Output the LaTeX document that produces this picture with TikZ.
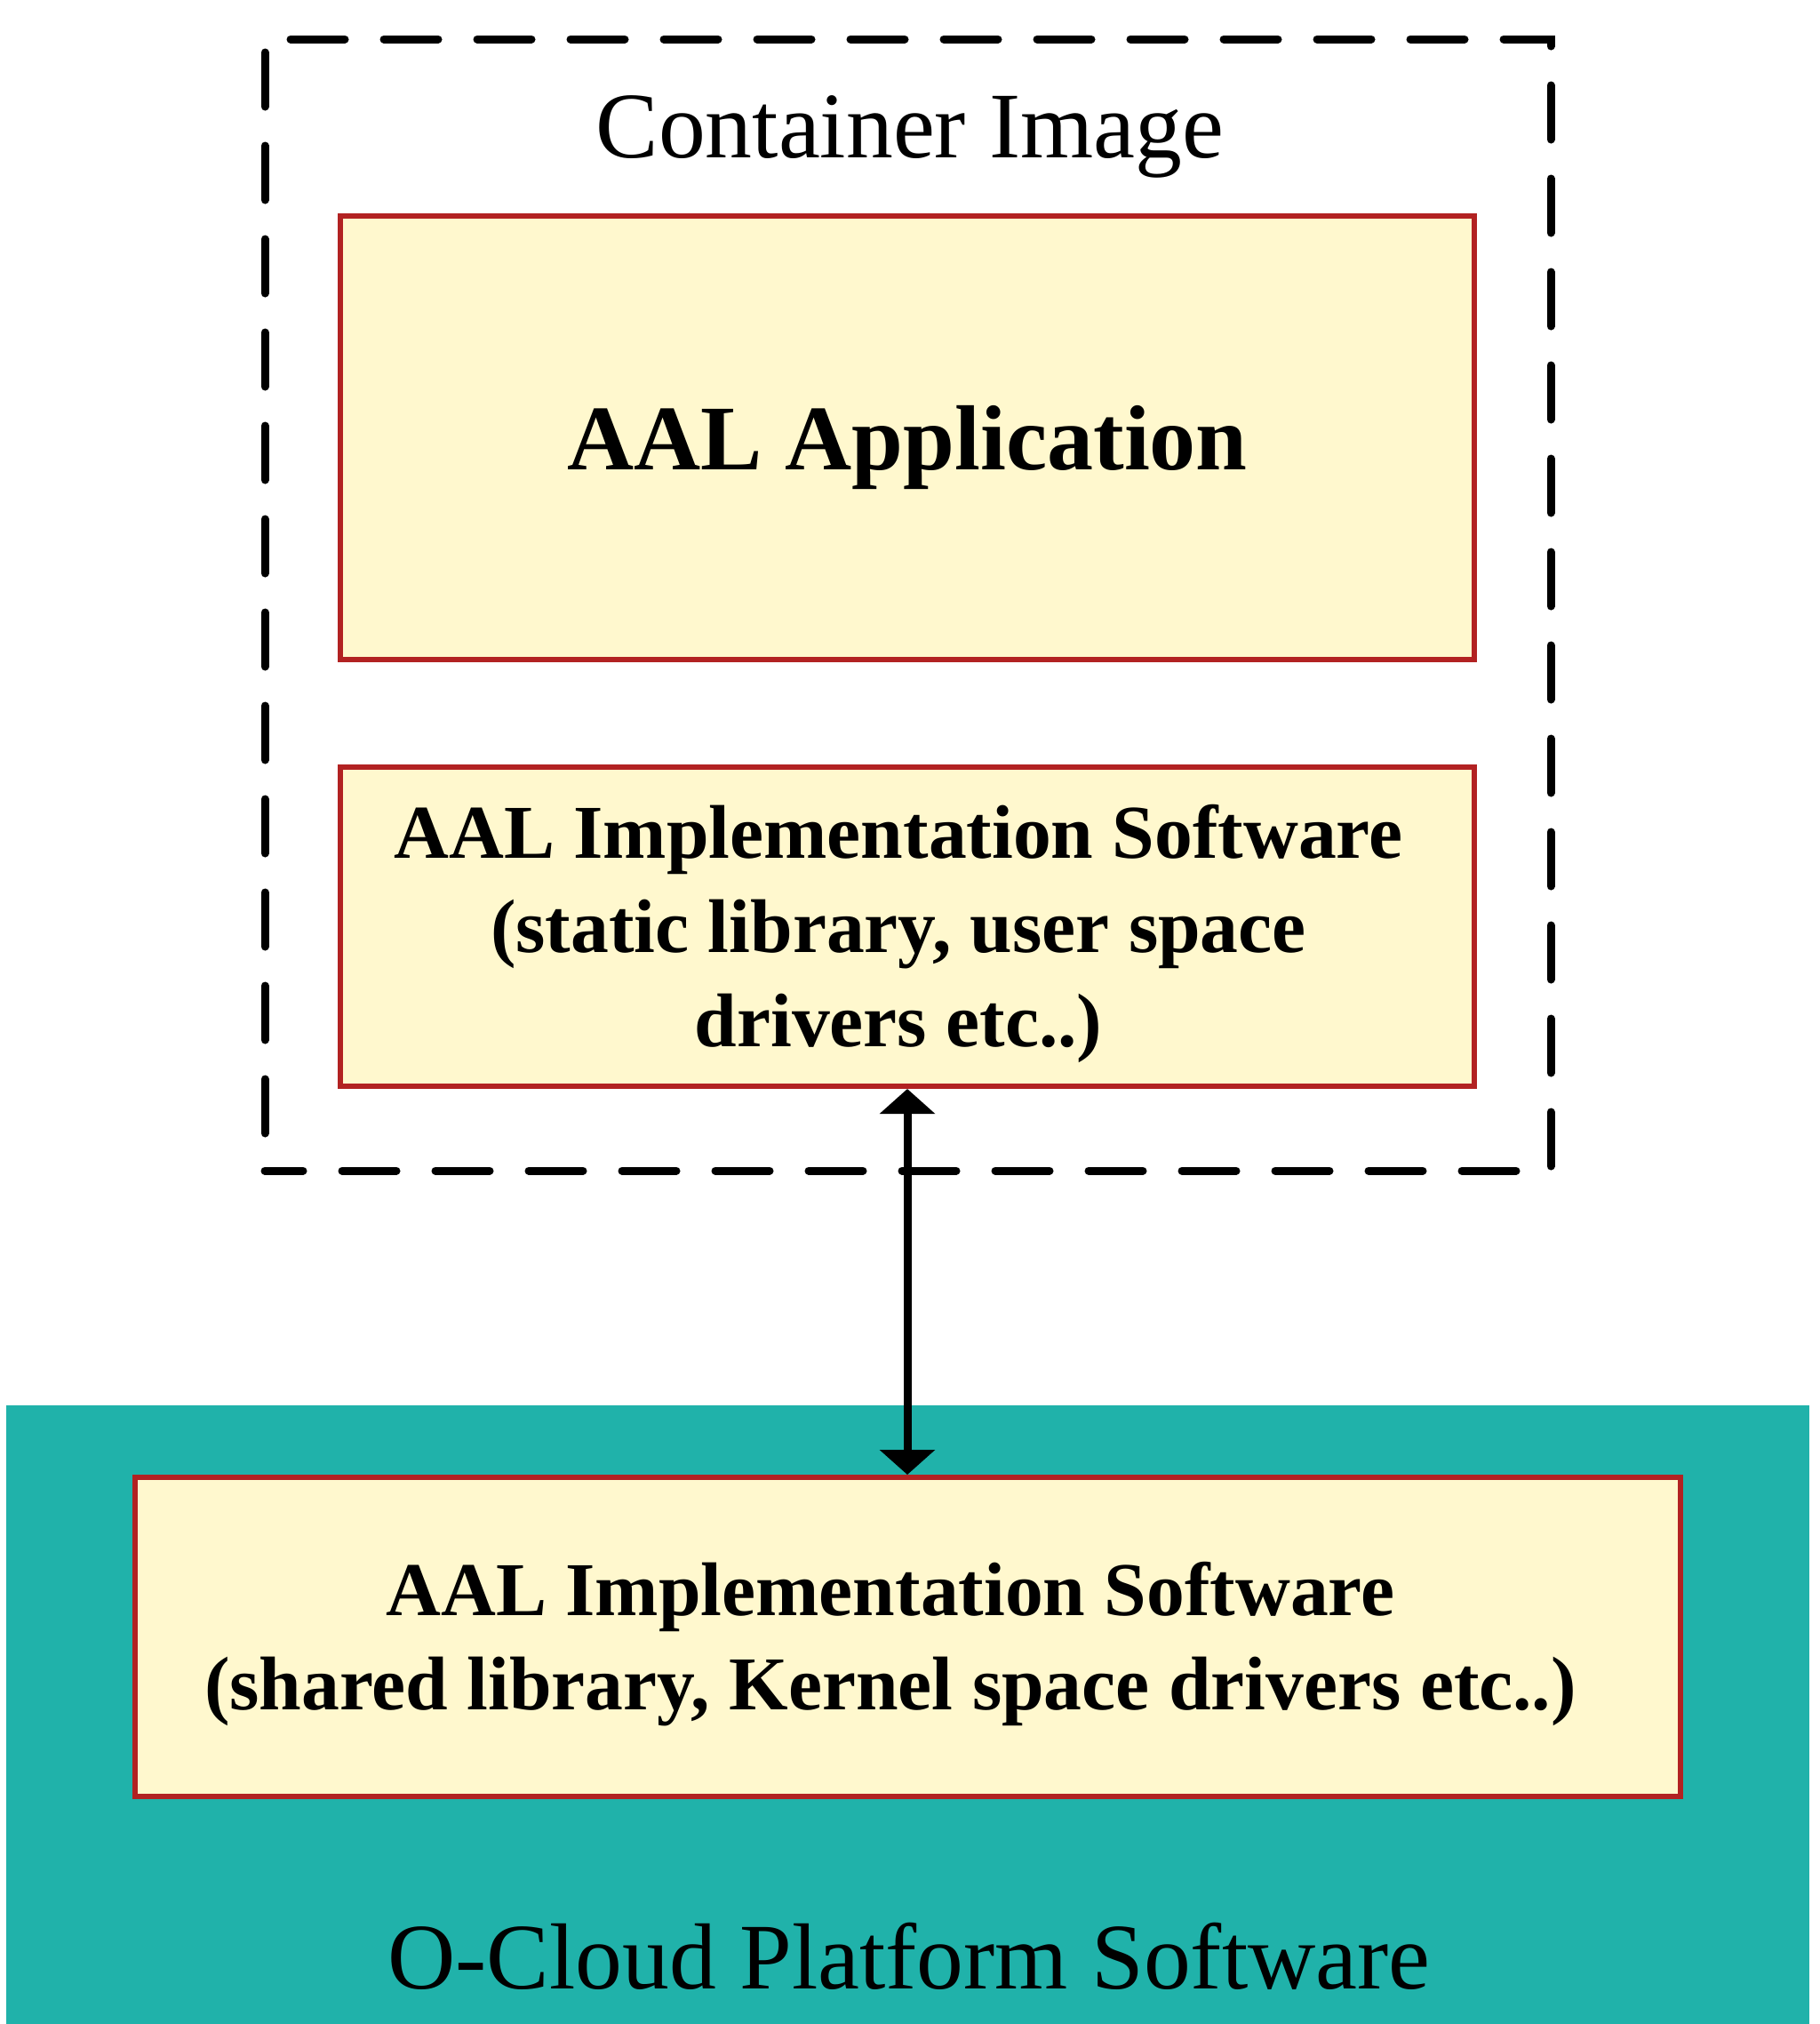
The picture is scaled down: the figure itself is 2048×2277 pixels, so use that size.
\documentclass[tikz,border=0pt]{standalone}
\usepackage{fontspec}
\setmainfont{Liberation Serif}
\usetikzlibrary{arrows.meta}
\definecolor{platteal}{HTML}{20B2AA}
\definecolor{boxfill}{HTML}{FFF8CE}
\definecolor{boxline}{HTML}{B22222}
\begin{document}
\begin{tikzpicture}[x=0.5pt,y=-0.5pt,
  swbox/.style={draw=boxline, fill=boxfill, line width=3pt, inner sep=0pt, minimum width=638pt},
  framebox/.style={draw=black, line width=4.5pt, line cap=round, dash pattern=on 30.5pt off 22pt, dash phase=9pt, inner sep=0pt},
  bigtext/.style={font=\fontsize{52.8pt}{60pt}\selectfont, inner sep=0pt, anchor=base},
  boxtext/.style={font=\fontsize{42.8pt}{53pt}\selectfont\bfseries, inner sep=0pt, anchor=base, align=center},
  link/.style={line width=4.5pt, {Triangle[width=30.5pt,length=14pt]}-{Triangle[width=30.5pt,length=14pt]}}
]
\useasboundingbox (0,0) rectangle (2048,2277);
% platform background
\node[fill=platteal, inner sep=0pt, minimum width=1014.5pt, minimum height=348pt] (platform) at (1021.5,1929) {};
% container frame
\node[framebox, minimum width=723.5pt, minimum height=636.5pt] (container) at (1021.5,680.5) {};
\node[bigtext] (containerlabel) at (1024,177) {Container Image};
% boxes
\node[swbox, minimum height=249.5pt] (app) at (1021,492.5) {};
\node[font=\fontsize{52pt}{60pt}\selectfont\bfseries, inner sep=0pt, anchor=base] (applabel) at (1021,528) {AAL Application};
\node[swbox, minimum height=179.5pt] (static) at (1021,1042.5) {};
\node[boxtext] (staticlabel) at (1011,1177) {AAL Implementation Software\\(static library, user space\\drivers etc..)};
\node[swbox, minimum width=869.5pt, minimum height=179.5pt] (shared) at (1021.5,1841.5) {};
\node[boxtext] (sharedlabel) at (1002,1923) {AAL Implementation Software\\(shared library, Kernel space drivers etc..)};
\node[bigtext] (platformlabel) at (1023,2237) {O-Cloud Platform Software};
% connector
\draw[link] (static.south) -- (static.south |- shared.north);
\end{tikzpicture}
\end{document}
